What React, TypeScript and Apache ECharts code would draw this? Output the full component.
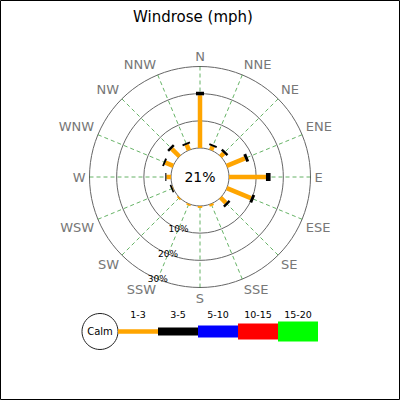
import { useRef, useEffect } from 'react'
import * as echarts from 'echarts'

// wind directions, clockwise from north
const directions = ['N', 'NNE', 'NE', 'ENE', 'E', 'ESE', 'SE', 'SSE', 'S', 'SSW', 'SW', 'WSW', 'W', 'WNW', 'NW', 'NNW']
const speedBins = ['1-3', '3-5', '5-10', '10-15', '15-20']

// percent of time per direction, by speed bin (mph)
const speed1to3 = [19.4, 1.5, 1.7, 7.2, 13.6, 9.6, 2.8, 0.8, 0.7, 0.6, 0.6, 0.2, 1.7, 3.1, 4.0, 2.2]
const speed3to5 = [1.3, 0.7, 0.9, 1.1, 1.7, 1.1, 0.9, 0, 0, 0, 0, 0.6, 0.4, 0.7, 0.9, 0.7]
const speed5to10 = [0, 0, 0, 0, 0, 0, 0, 0, 0, 0, 0, 0, 0, 0, 0, 0]
const speed10to15 = [0, 0, 0, 0, 0, 0, 0, 0, 0, 0, 0, 0, 0, 0, 0, 0]
const speed15to20 = [0, 0, 0, 0, 0, 0, 0, 0, 0, 0, 0, 0, 0, 0, 0, 0]
const calmPercent = 21

const ringTicks = [10, 20, 30]
const ringLabels = ['10%', '20%', '30%']

const binColors = ['#ffa500', '#000000', '#0000ff', '#ff0000', '#00ff00']
const binWidths = [4.5, 8, 12, 16, 20]
const FONT = 'DejaVu Sans'
const CENTER = [200, 177]
const STEP = 360 / directions.length
const RING_LABEL_DIR = 9 // SSW

export default function App() {
  const chartRef = useRef<HTMLDivElement>(null)

  useEffect(() => {
    if (!chartRef.current) return
    const chart = echarts.init(chartRef.current, null, { renderer: 'svg' })

    const bins = [speed1to3, speed3to5, speed5to10, speed10to15, speed15to20]
    const rows = directions.map((_, i) => [i * STEP, ...bins.map(b => b[i])])

    const legendX = 118
    const legendY = 331.5
    const legendW = 40
    const legendItems: any[] = [
      { type: 'circle', shape: { cx: 100, cy: legendY, r: 18 }, style: { fill: '#fff', stroke: '#222', lineWidth: 1 } },
      { type: 'text', x: 100, y: legendY, style: { text: 'Calm', fontSize: 10, fontFamily: FONT, fill: '#000', align: 'center', verticalAlign: 'middle' } },
    ]
    speedBins.forEach((name, b) => {
      const h = binWidths[b]
      legendItems.push({
        type: 'rect',
        shape: { x: legendX + legendW * b, y: legendY - h / 2, width: legendW, height: h },
        style: { fill: binColors[b] },
      })
      legendItems.push({
        type: 'text',
        x: legendX + legendW * b + legendW / 2,
        y: 314,
        style: { text: name, fontSize: 9.5, fontFamily: FONT, fill: '#000', align: 'center', verticalAlign: 'middle' },
      })
    })

    chart.setOption({
      animation: false,
      textStyle: { fontFamily: FONT },
      title: {
        text: 'Windrose (mph)',
        left: 133,
        top: 9,
        padding: 0,
        textStyle: { fontSize: 15, fontWeight: 'normal', color: '#000', fontFamily: FONT },
      },
      polar: { center: CENTER, radius: [29, 110.5] },
      angleAxis: {
        type: 'value',
        min: 0,
        max: 360,
        interval: STEP,
        startAngle: 90,
        clockwise: true,
        axisLine: { show: false },
        axisTick: { show: false },
        axisLabel: {
          color: '#777',
          fontSize: 13,
          margin: 4,
          fontFamily: FONT,
          formatter: (v: number) => (v >= 360 ? '' : directions[Math.round(v / STEP)]),
        },
        splitLine: { show: true, lineStyle: { color: 'rgba(0,128,0,0.6)', width: 1, type: [4, 3] } },
      },
      radiusAxis: {
        type: 'value',
        min: 0,
        max: 30,
        interval: 10,
        axisLine: { show: false },
        axisTick: { show: false },
        axisLabel: { show: false },
        splitLine: { show: true, lineStyle: { color: '#666', width: 1 } },
      },
      series: [
        {
          type: 'custom',
          coordinateSystem: 'polar',
          encode: { angle: 0, radius: 1 },
          data: rows,
          renderItem: (params: any, api: any) => {
            const a = api.value(0)
            let r = 0
            const children: any[] = []
            for (let b = 0; b < speedBins.length; b++) {
              const v = api.value(b + 1)
              if (!v) continue
              const p0 = api.coord([r, a])
              const p1 = api.coord([r + v, a])
              children.push({
                type: 'line',
                shape: { x1: p0[0], y1: p0[1], x2: p1[0], y2: p1[1] },
                style: { stroke: binColors[b], lineWidth: binWidths[b], lineCap: 'butt' },
              })
              r += v
            }
            return { type: 'group', children }
          },
        },
        {
          type: 'custom',
          coordinateSystem: 'polar',
          encode: { radius: 0, angle: 1 },
          data: ringTicks.map(v => [v, RING_LABEL_DIR * STEP]),
          z: 5,
          renderItem: (params: any, api: any) => {
            const p = api.coord([api.value(0), api.value(1)])
            return {
              type: 'text',
              x: p[0],
              y: p[1],
              style: {
                text: ringLabels[params.dataIndex],
                fontSize: 9,
                fontFamily: FONT,
                fill: '#000',
                align: 'center',
                verticalAlign: 'middle',
              },
            }
          },
        },
      ],
      graphic: [
        {
          type: 'rect',
          shape: { x: 0.5, y: 0.5, width: 399, height: 399 },
          style: { fill: 'none', stroke: '#000', lineWidth: 1 },
          silent: true,
        },
        {
          type: 'text',
          x: CENTER[0],
          y: CENTER[1],
          style: { text: `${calmPercent}%`, fontSize: 14, fontFamily: FONT, fill: '#000', align: 'center', verticalAlign: 'middle' },
        },
        { type: 'group', children: legendItems },
      ],
    })

    return () => chart.dispose()
  }, [])

  return <div ref={chartRef} style={{ position: 'fixed', left: 0, top: 0, width: 400, height: 400, background: '#fff' }} />
}
